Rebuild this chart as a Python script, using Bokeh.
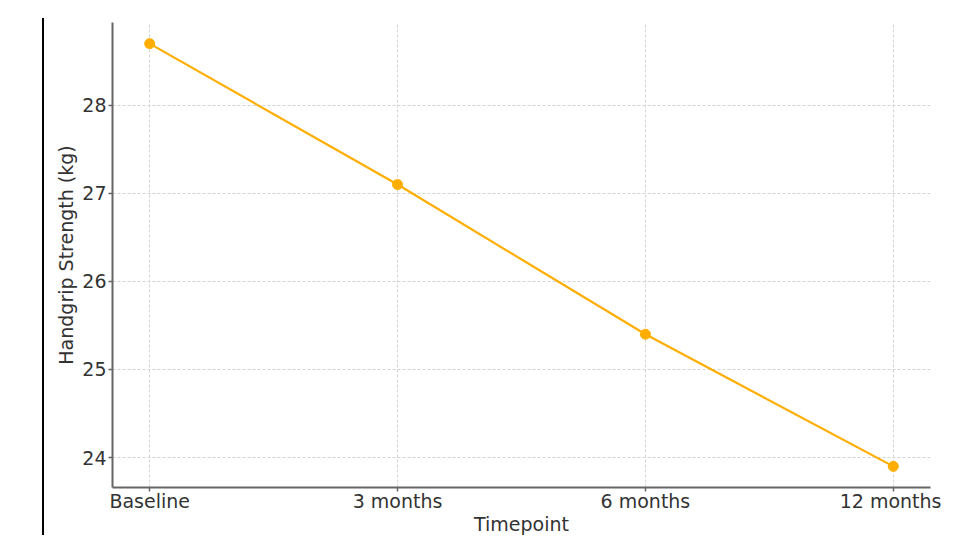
from bokeh.plotting import figure
from bokeh.models import FixedTicker, Range1d, Div
from bokeh.layouts import row
from bokeh.embed import file_html
from bokeh.resources import INLINE

timepoints = ["Baseline", "3 months", "6 months", "12 months"]
strength = [28.7, 27.1, 25.4, 23.9]
y_ticks = [24, 25, 26, 27, 28]

xs = list(range(len(timepoints)))

p = figure(width=897, height=537, output_backend="svg", toolbar_location=None,
           x_range=Range1d(-0.15, 3.15), y_range=Range1d(23.66, 28.94),
           min_border_left=68, min_border_right=11, min_border_top=22, min_border_bottom=46)
p.outline_line_color = None
p.background_fill_color = "white"
p.border_fill_color = "white"

color = "#FFAE00"
p.line(xs, strength, line_color=color, line_width=2.2)
p.scatter(xs, strength, size=10, fill_color=color, line_color=color)

font = "DejaVu Sans"
for ax in (p.xaxis[0], p.yaxis[0]):
    ax.axis_line_color = "#666666"
    ax.axis_line_width = 2
    ax.major_tick_line_color = "#666666"
    ax.major_tick_line_width = 1.5
    ax.major_tick_out = 4
    ax.major_tick_in = 0
    ax.minor_tick_line_color = None
    ax.major_label_text_font = font
    ax.major_label_text_font_size = "19px"
    ax.major_label_text_color = "#333333"
    ax.axis_label_text_font = font
    ax.axis_label_text_font_size = "19px"
    ax.axis_label_text_color = "#333333"
    ax.axis_label_text_font_style = "normal"

p.xaxis.ticker = FixedTicker(ticks=xs)
p.xaxis.major_label_overrides = {i: t for i, t in enumerate(timepoints)}
p.xaxis.major_label_standoff = -2
p.xaxis.axis_label = "Timepoint"
p.xaxis.axis_label_standoff = -2

p.yaxis.ticker = FixedTicker(ticks=y_ticks)
p.yaxis.major_label_standoff = 2
p.yaxis.axis_label = "Handgrip Strength (kg)"
p.yaxis.axis_label_standoff = 2

for g in (p.xgrid[0], p.ygrid[0]):
    g.grid_line_color = "#d4d4d4"
    g.grid_line_dash = "3 2"
    g.grid_line_width = 1

edge = Div(text="", width=44, height=517, margin=(18, 0, 0, 0),
           styles={"border-right": "2px solid black"})

layout = row(edge, p, spacing=0)
open("out.html", "w").write(file_html(layout, INLINE))
